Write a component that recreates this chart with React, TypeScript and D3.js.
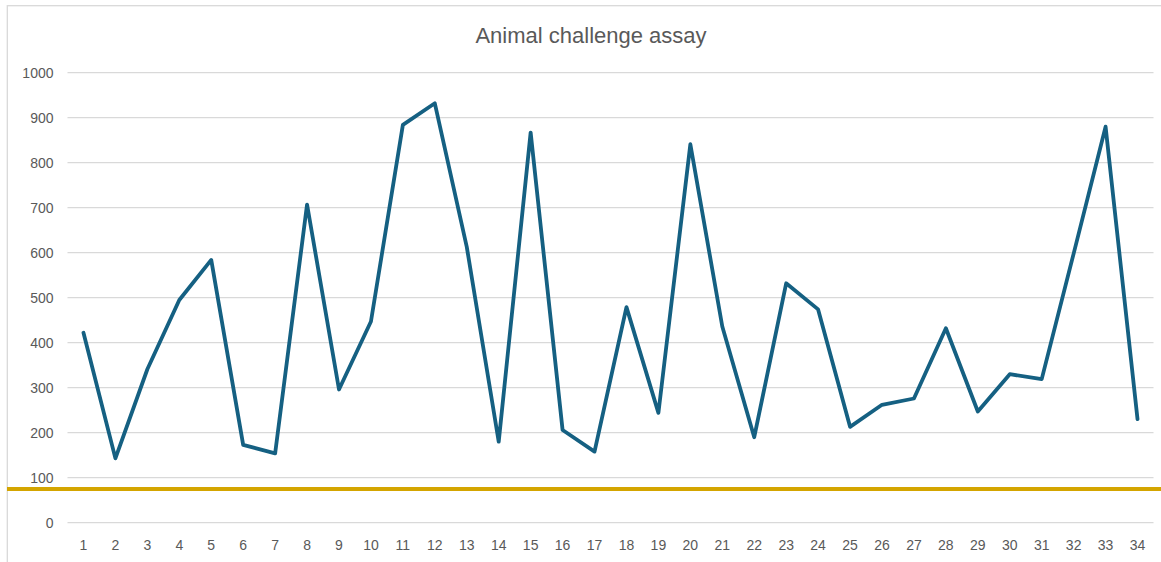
import React from "react";
import * as d3 from "d3";

const categories: string[] = Array.from({ length: 34 }, (_, i) => String(i + 1));
const values: number[] = [
  422, 143, 341, 495, 584, 173, 154, 707, 296, 447,
  884, 932, 613, 180, 867, 206, 158, 479, 244, 841,
  436, 190, 532, 474, 213, 262, 276, 432, 247, 330,
  319, 598, 880, 230,
];
const thresholdValue = 75;
const yTicks: number[] = [0, 100, 200, 300, 400, 500, 600, 700, 800, 900, 1000];
const title = "Animal challenge assay";

const W = 1161;
const H = 562;
const plot = { left: 67.5, right: 1153.5, top: 72.7, bottom: 522.7 };
const FONT = "'Liberation Sans', Arial, sans-serif";

export default function App() {
  const x = d3
    .scaleBand<string>()
    .domain(categories)
    .range([plot.left, plot.right])
    .padding(0);
  const y = d3.scaleLinear().domain([0, 1000]).range([plot.bottom, plot.top]);
  const cx = (c: string) => (x(c) ?? 0) + x.bandwidth() / 2;

  const line = d3
    .line<number>()
    .x((_, i) => cx(categories[i]))
    .y((d) => y(d));

  return (
    <svg
      width={W}
      height={H}
      style={{ position: "absolute", left: 0, top: 0, background: "#fff" }}
    >
      <rect x={0} y={0} width={W} height={H} fill="#fff" />
      {/* chart border (top + left visible) */}
      <rect
        x={7.3}
        y={5.7}
        width={W + 20}
        height={H + 20}
        fill="none"
        stroke="#d9d9d9"
        strokeWidth={1.3}
      />
      <text
        x={591}
        y={43}
        textAnchor="middle"
        fontFamily={FONT}
        fontSize={22}
        fill="#595959"
      >
        {title}
      </text>
      {yTicks.map((t) => (
        <g key={t}>
          <line
            x1={plot.left}
            x2={plot.right}
            y1={y(t)}
            y2={y(t)}
            stroke="#d9d9d9"
            strokeWidth={1.3}
          />
          <text
            x={53.5}
            y={y(t)}
            dy="0.35em"
            textAnchor="end"
            fontFamily={FONT}
            fontSize={14}
            fill="#595959"
          >
            {t}
          </text>
        </g>
      ))}
      {categories.map((c) => (
        <text
          key={c}
          x={cx(c)}
          y={545}
          dy="0.35em"
          textAnchor="middle"
          fontFamily={FONT}
          fontSize={14}
          fill="#595959"
        >
          {c}
        </text>
      ))}
      <path
        d={line(values) ?? ""}
        fill="none"
        stroke="#156082"
        strokeWidth={3.8}
        strokeLinejoin="round"
        strokeLinecap="round"
      />
      <line
        x1={7}
        x2={W}
        y1={y(thresholdValue)}
        y2={y(thresholdValue)}
        stroke="#d4a500"
        strokeWidth={4}
      />
    </svg>
  );
}
